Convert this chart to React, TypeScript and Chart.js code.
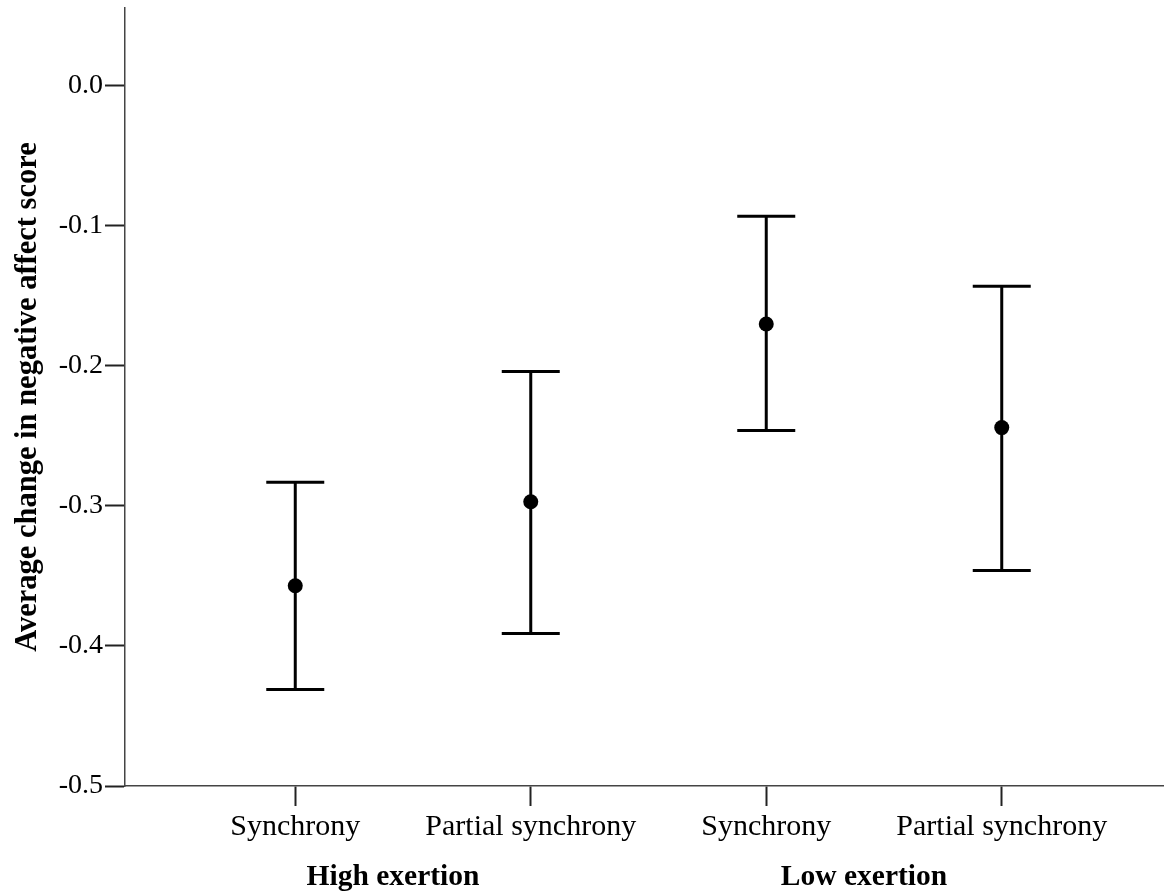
import React, { useEffect, useRef } from "react";
import { Chart, registerables } from "chart.js";

Chart.register(...registerables);

// Conditions along the x axis and their exertion groups
const categories = ["Synchrony", "Partial synchrony", "Synchrony", "Partial synchrony"];
const groupLabels = ["High exertion", "Low exertion"];
const groupMembers = [[0, 1], [2, 3]];

// Mean change and the ends of the error bars for each condition
const means = [-0.357, -0.297, -0.170, -0.244];
const upper = [-0.283, -0.204, -0.093, -0.143];
const lower = [-0.431, -0.391, -0.246, -0.346];

// Labelled values on the y axis
const yTicks = [0, -0.1, -0.2, -0.3, -0.4, -0.5];

const yTitle = "Average change in negative affect score";
const SERIF = '"Liberation Serif", "Times New Roman", Times, serif';

const errorBarsPlugin = {
  id: "errorBars",
  beforeDatasetsDraw(chart: any) {
    const { ctx, scales } = chart;
    const xs = scales.x;
    const ys = scales.y;
    ctx.save();
    ctx.strokeStyle = "#000";
    ctx.lineWidth = 3;
    ctx.lineCap = "butt";
    means.forEach((_, i) => {
      const px = xs.getPixelForValue(i + 1);
      const pTop = ys.getPixelForValue(upper[i]);
      const pBot = ys.getPixelForValue(lower[i]);
      const half = 29;
      ctx.beginPath();
      ctx.moveTo(px, pTop);
      ctx.lineTo(px, pBot);
      ctx.moveTo(px - half, pTop);
      ctx.lineTo(px + half, pTop);
      ctx.moveTo(px - half, pBot);
      ctx.lineTo(px + half, pBot);
      ctx.stroke();
    });
    ctx.restore();
  },
};

const labelsPlugin = {
  id: "extraLabels",
  afterDraw(chart: any) {
    const { ctx, scales, chartArea } = chart;
    const xs = scales.x;
    ctx.save();
    ctx.fillStyle = "#000";
    ctx.font = `bold 29.5px ${SERIF}`;
    ctx.textAlign = "center";
    ctx.textBaseline = "alphabetic";
    groupLabels.forEach((label, g) => {
      const members = groupMembers[g];
      const cx =
        members.reduce((s, m) => s + xs.getPixelForValue(m + 1), 0) / members.length - 20;
      ctx.fillText(label, cx, 885);
    });
    // rotated y axis title
    ctx.font = `bold 30.5px ${SERIF}`;
    ctx.translate(36, (chartArea.top + chartArea.bottom) / 2);
    ctx.rotate(-Math.PI / 2);
    ctx.fillText(yTitle, 0, 0);
    ctx.restore();
  },
};

export default function App() {
  const canvasRef = useRef<HTMLCanvasElement | null>(null);

  useEffect(() => {
    const canvas = canvasRef.current;
    if (!canvas) return;
    const chart = new Chart(canvas, {
      type: "scatter",
      data: {
        datasets: [
          {
            data: means.map((m, i) => ({ x: i + 1, y: m })),
            backgroundColor: "#000",
            borderColor: "#000",
            pointRadius: 7.5,
            pointHoverRadius: 7.5,
            borderWidth: 0,
          },
        ],
      },
      options: {
        responsive: false,
        animation: false,
        events: [],
        layout: { autoPadding: false, padding: { top: 8, right: 0, left: 0, bottom: 0 } },
        plugins: {
          legend: { display: false },
          tooltip: { enabled: false },
          title: { display: false },
        },
        scales: {
          x: {
            type: "linear",
            min: 0.277,
            max: 4.689,
            afterBuildTicks(scale: any) {
              scale.ticks = categories.map((_, i) => ({ value: i + 1 }));
            },
            afterFit(scale: any) {
              scale.height = 106;
              scale.paddingLeft = 0;
              scale.paddingRight = 0;
            },
            ticks: {
              autoSkip: false,
              maxRotation: 0,
              minRotation: 0,
              padding: 3,
              color: "#000",
              font: { family: SERIF, size: 30 },
              callback: (v: any) => categories[Math.round(Number(v)) - 1] ?? "",
            },
            grid: {
              drawOnChartArea: false,
              drawTicks: true,
              tickLength: 20,
              tickColor: "#222",
              tickWidth: 2,
            },
            border: { display: true, color: "#444", width: 1.5 },
          },
          y: {
            type: "linear",
            min: -0.5,
            max: 0.0557,
            afterBuildTicks(scale: any) {
              scale.ticks = yTicks.map((v) => ({ value: v }));
            },
            afterFit(scale: any) {
              scale.width = 125;
              scale.paddingTop = 0;
              scale.paddingBottom = 0;
            },
            ticks: {
              padding: 2,
              color: "#000",
              font: { family: SERIF, size: 28 },
              callback: (v: any) => Number(v).toFixed(1),
            },
            grid: {
              drawOnChartArea: false,
              drawTicks: true,
              tickLength: 20,
              tickColor: "#222",
              tickWidth: 2,
            },
            border: { display: true, color: "#444", width: 1.5 },
          },
        },
      },
      plugins: [errorBarsPlugin, labelsPlugin],
    });
    return () => chart.destroy();
  }, []);

  return (
    <div style={{ position: "fixed", left: 0, top: 0, width: 1164, height: 892, background: "#fff" }}>
      <canvas ref={canvasRef} width={1164} height={892} style={{ display: "block" }} />
    </div>
  );
}
